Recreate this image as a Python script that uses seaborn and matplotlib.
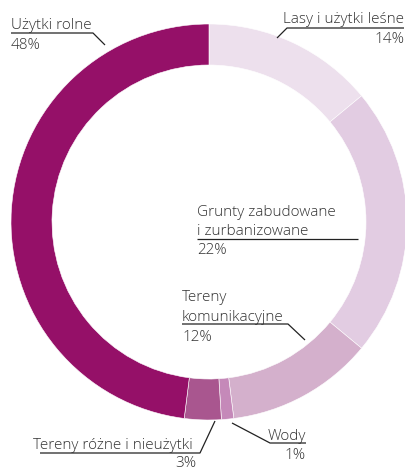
import matplotlib
matplotlib.use("Agg")
import matplotlib.pyplot as plt
import seaborn as sns

# data (clockwise from 12 o'clock)
categories = ["Lasy i użytki leśne", "Grunty zabudowane\ni zurbanizowane",
              "Tereny\nkomunikacyjne", "Wody", "Tereny różne i nieużytki",
              "Użytki rolne"]
shares = [14, 22, 12, 1, 3, 48]
colors = ["#ede0ed", "#e2cce2", "#d4b0cc", "#c589b9", "#a9568f", "#951068"]

sns.set_theme(style="white")
plt.rcParams["font.family"] = ["Open Sans", "DejaVu Sans"]

W, H = 406, 471
fig = plt.figure(figsize=(W / 100, H / 100), dpi=100)
ax = fig.add_axes([0, 0, 1, 1])

CX, CY, R_OUT, R_IN = 209, 222, 198, 157
ax.pie(shares, colors=colors, startangle=-90, counterclock=True,
       center=(CX, CY), radius=R_OUT,
       wedgeprops=dict(width=R_OUT - R_IN, edgecolor="white", linewidth=0.4))
ax.set_xlim(0, W)
ax.set_ylim(H, 0)
ax.set_aspect("equal")
ax.axis("off")

tc = "#333333"
fs = 11
fw = "light"
lw = 0.9


def label(x, y, txt, ha="left"):
    ax.text(x, y, txt, ha=ha, va="baseline", fontsize=fs, color=tc,
            fontweight=fw)


def leader(pts):
    xs, ys = zip(*pts)
    ax.plot(xs, ys, color="#222222", lw=lw, solid_capstyle="butt")


# Użytki rolne
label(11, 29, categories[5])
label(11, 49, f"{shares[5]}%")
leader([(11, 33), (93, 33), (105, 45)])

# Lasy i użytki leśne
label(404, 23, categories[0], ha="right")
label(404, 43, f"{shares[0]}%", ha="right")
leader([(277, 38), (287, 28), (404, 28)])

# Grunty zabudowane i zurbanizowane
label(197, 216, "Grunty zabudowane")
label(197, 235, "i zurbanizowane")
label(197, 254, f"{shares[1]}%")
leader([(197, 239), (358, 239)])

# Tereny komunikacyjne
label(182, 301, "Tereny")
label(182, 321, "komunikacyjne")
label(182, 341, f"{shares[2]}%")
leader([(182, 324), (288, 324), (305, 340)])

# Wody
label(306, 440, categories[3], ha="right")
label(306, 459, f"{shares[3]}%", ha="right")
leader([(232, 423), (270, 443), (306, 443)])

# Tereny różne i nieużytki
label(33, 449, categories[4])
label(186, 467, f"{shares[4]}%", ha="center")
leader([(40, 453), (200, 453), (215, 421)])

fig.savefig("out.png", dpi=100)
